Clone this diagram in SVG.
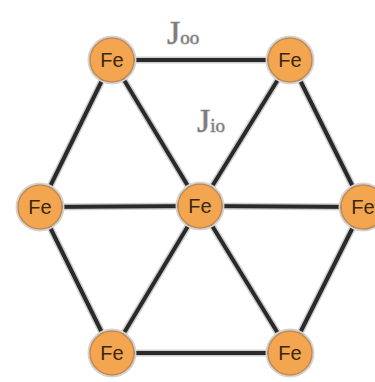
<svg xmlns="http://www.w3.org/2000/svg" width="375" height="382" viewBox="0 0 375 382">
<style>
.e{stroke:#2a2a2a;stroke-width:4;stroke-linecap:round}
.h{stroke:#cfcfcf;stroke-width:7;stroke-linecap:round}
.n circle{fill:#f3a550;stroke:#c08a55;stroke-width:1.5}
.n .halo{fill:none;stroke:#d4d4d4;stroke-width:2}
.n text{font-family:"Liberation Sans",Arial,sans-serif;font-size:20px;fill:#3a2810;text-anchor:middle}
.j{font-family:"Liberation Serif","Times New Roman",serif;fill:#7d7d7d;stroke:#c8c8c8;stroke-width:1.2;paint-order:stroke}
</style>
<rect width="375" height="382" fill="#fff"/>
<g id="connectors">
<g>
<line class="h" x1="112" y1="60" x2="290" y2="60"/>
<line class="h" x1="290" y1="60" x2="363" y2="207"/>
<line class="h" x1="363" y1="207" x2="290" y2="353"/>
<line class="h" x1="290" y1="353" x2="112" y2="353"/>
<line class="h" x1="112" y1="353" x2="40" y2="207"/>
<line class="h" x1="40" y1="207" x2="112" y2="60"/>
<line class="h" x1="200" y1="206" x2="112" y2="60"/>
<line class="h" x1="200" y1="206" x2="290" y2="60"/>
<line class="h" x1="200" y1="206" x2="363" y2="207"/>
<line class="h" x1="200" y1="206" x2="290" y2="353"/>
<line class="h" x1="200" y1="206" x2="112" y2="353"/>
<line class="h" x1="200" y1="206" x2="40" y2="207"/>
</g>
<line class="e" x1="112" y1="60" x2="290" y2="60"/>
<line class="e" x1="290" y1="60" x2="363" y2="207"/>
<line class="e" x1="363" y1="207" x2="290" y2="353"/>
<line class="e" x1="290" y1="353" x2="112" y2="353"/>
<line class="e" x1="112" y1="353" x2="40" y2="207"/>
<line class="e" x1="40" y1="207" x2="112" y2="60"/>
<line class="e" x1="200" y1="206" x2="112" y2="60"/>
<line class="e" x1="200" y1="206" x2="290" y2="60"/>
<line class="e" x1="200" y1="206" x2="363" y2="207"/>
<line class="e" x1="200" y1="206" x2="290" y2="353"/>
<line class="e" x1="200" y1="206" x2="112" y2="353"/>
<line class="e" x1="200" y1="206" x2="40" y2="207"/>
</g>
<g id="fe-top-left" class="n"><circle class="halo" cx="112" cy="60" r="23.5"/><circle cx="112" cy="60" r="22"/><text x="112" y="67">Fe</text></g>
<g id="fe-top-right" class="n"><circle class="halo" cx="290" cy="60" r="23.5"/><circle cx="290" cy="60" r="22"/><text x="290" y="67">Fe</text></g>
<g id="fe-left" class="n"><circle class="halo" cx="40" cy="207" r="23.5"/><circle cx="40" cy="207" r="22"/><text x="40" y="214">Fe</text></g>
<g id="fe-center" class="n"><circle class="halo" cx="200" cy="206" r="23.5"/><circle cx="200" cy="206" r="22"/><text x="200" y="213">Fe</text></g>
<g id="fe-right" class="n"><circle class="halo" cx="363" cy="207" r="23.5"/><circle cx="363" cy="207" r="22"/><text x="363" y="214">Fe</text></g>
<g id="fe-bottom-left" class="n"><circle class="halo" cx="112" cy="353" r="23.5"/><circle cx="112" cy="353" r="22"/><text x="112" y="360">Fe</text></g>
<g id="fe-bottom-right" class="n"><circle class="halo" cx="290" cy="353" r="23.5"/><circle cx="290" cy="353" r="22"/><text x="290" y="360">Fe</text></g>
<g id="label-joo"><text class="j" x="167" y="44" font-size="34">J<tspan font-size="19">oo</tspan></text></g>
<g id="label-jio"><text class="j" x="197" y="132" font-size="34">J<tspan font-size="19">io</tspan></text></g>
</svg>
